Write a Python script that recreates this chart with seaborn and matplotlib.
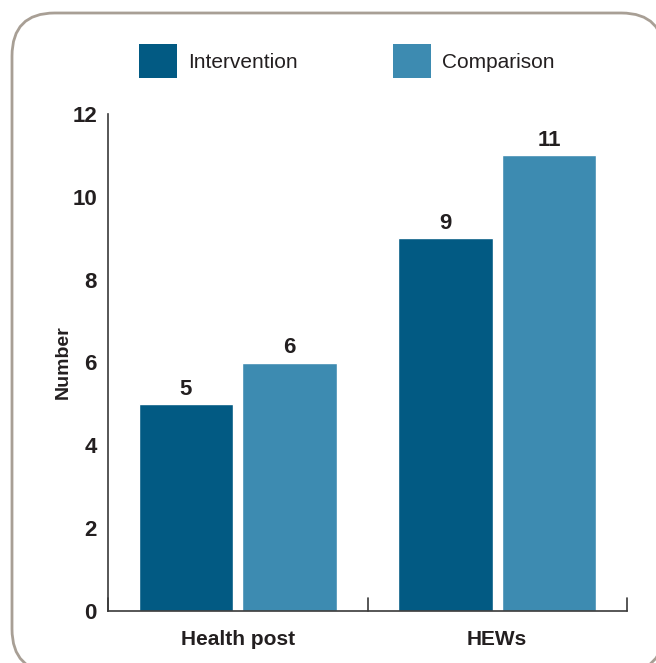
import pandas as pd
import matplotlib.pyplot as plt
import seaborn as sns
from matplotlib.patches import FancyBboxPatch, Patch


# =========================================
# DATA
# =========================================

categories = ["Health post", "HEWs"]

groups = ["Intervention", "Comparison"]

intervention = [5, 9]

comparison = [6, 11]

y_ticks = [0, 2, 4, 6, 8, 10, 12]

df = pd.DataFrame({
    "Category": categories * 2,
    "Group": [groups[0]] * len(categories) + [groups[1]] * len(categories),
    "Number": intervention + comparison
})


# =========================================
# STYLE
# =========================================

sns.set_style("white")

plt.rcParams["font.family"] = ["Liberation Sans Narrow", "Liberation Sans", "DejaVu Sans"]

palette = {"Intervention": "#025a83", "Comparison": "#3d8bb1"}

text_color = "#231f20"

axis_color = "#3a3a3a"


# =========================================
# FIGURE
# =========================================

fig = plt.figure(figsize=(6.56, 6.63), dpi=100)

ax = fig.add_axes([108 / 656, 1 - 611 / 663, 519 / 656, 497 / 663])

sns.barplot(
    data=df,
    x="Category",
    y="Number",
    hue="Group",
    palette=palette,
    order=categories,
    hue_order=groups,
    width=0.8,
    gap=0.09,
    saturation=1,
    legend=False,
    ax=ax
)

ax.set_xlim(-0.5, 1.5)
ax.set_ylim(0, 12)
ax.set_yticks(y_ticks)

for container in ax.containers:
    ax.bar_label(container, fmt="%d", padding=3, fontsize=16,
                 fontweight="bold", color=text_color)

sns.despine(ax=ax)

for side in ["left", "bottom"]:
    ax.spines[side].set_color(axis_color)
    ax.spines[side].set_linewidth(1.2)

ax.set_xlabel("")
ax.set_ylabel("Number", fontsize=14, fontweight="bold", color=text_color, labelpad=0)

ax.tick_params(axis="y", length=0, pad=8, labelsize=16, labelcolor=text_color)
ax.tick_params(axis="x", length=0, pad=14, labelsize=15, labelcolor=text_color)

for label in ax.get_yticklabels() + ax.get_xticklabels():
    label.set_fontweight("bold")

# small upward ticks at group boundaries
for xb in [-0.5, 0.5, 1.5]:
    ax.plot([xb, xb], [0, 0.31], color=axis_color, lw=1.2, clip_on=False)


# =========================================
# LEGEND
# =========================================

handles = [Patch(facecolor=palette[g], edgecolor="none") for g in groups]

fig.legend(
    handles,
    groups,
    loc="center",
    bbox_to_anchor=(347 / 656, 1 - 61 / 663),
    ncol=2,
    frameon=False,
    fontsize=15,
    handlelength=1.8,
    handleheight=2.2,
    handletextpad=0.55,
    columnspacing=4.6,
    labelcolor=text_color
)


# =========================================
# ROUNDED BORDER (white face keeps agg from clipping the stroke)
# =========================================

border = FancyBboxPatch(
    (12 / 656, 1 - 672 / 663),
    652 / 656,
    659 / 663,
    boxstyle="round,pad=0,rounding_size=0.065",
    transform=fig.transFigure,
    facecolor="white",
    edgecolor="#a89f95",
    linewidth=2,
    zorder=-5
)

fig.patches.append(border)

plt.savefig("out.png", dpi=100)
